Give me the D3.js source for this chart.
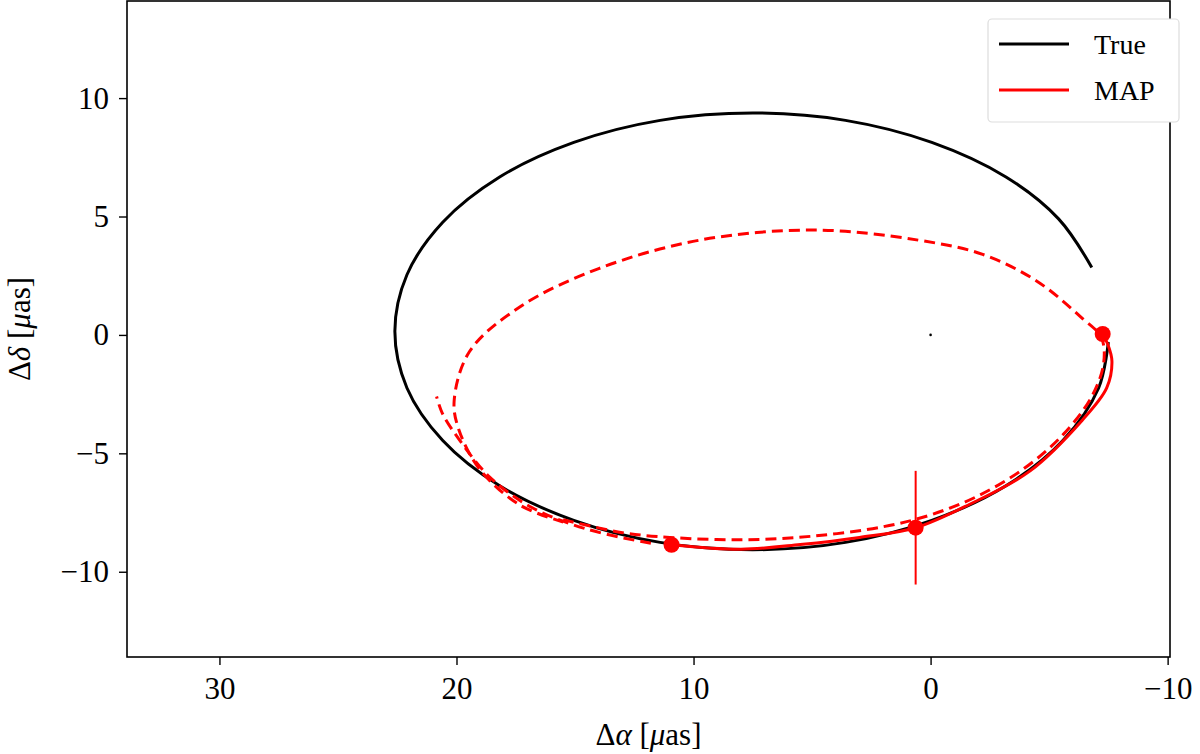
<!DOCTYPE html>
<html><head><meta charset="utf-8">
<script src="https://cdn.jsdelivr.net/npm/d3@7"></script>
<style>body{margin:0;background:#fff}</style></head>
<body><svg id="c" width="1200" height="754"></svg>
<script>
const xTicks=[30,20,10,0,-10];
const yTicks=[10,5,0,-5,-10];
const trueOrbit=[[-6.8,2.85],[-5.4,4.9],[-3.18,6.67],[-0.05,8.13],[3.59,9.06],[7.5,9.37],[11.41,9.06],[15.05,8.13],[18.18,6.67],[20.58,4.76],[22.09,2.54],[22.6,0.15],[22.09,-2.24],[20.58,-4.46],[18.18,-6.37],[15.05,-7.83],[11.41,-8.76],[7.5,-9.07],[3.59,-8.76],[-0.05,-7.83],[-3.18,-6.37],[-5.58,-4.46],[-7.09,-2.24],[-7.5,-0.3]];
const mapSolid=[[10.93,-8.86],[8,-9.05],[5.5,-8.85],[3,-8.55],[0.63,-8.14],[-1.65,-7.15],[-4.2,-5.74],[-6.4,-3.6],[-7.43,-2.24],[-7.65,-1.1],[-7.47,-0.38],[-7.26,0.04]];
const mapDashedA=[[11.8,-8.8],[14.5,-8.2],[16.8,-7.3],[18.6,-6.0],[19.9,-4.4],[20.6,-3.3],[20.84,-2.6]];
const mapDashedB=[[15.5,-7.8],[13,-8.35],[11,-8.55],[8,-8.65],[5,-8.5],[2,-8.1],[0,-7.6],[-2,-6.8],[-4,-5.6],[-5.6,-4.2],[-6.8,-2.6],[-7.3,-1.2],[-7.2,-0.1],[-6.4,0.7],[-4.47,2.28],[-2.2,3.4],[0.5,4.0],[4.9,4.43],[9.75,4.0],[14,2.8],[17.3,1.2],[19.45,-0.7],[20.1,-2.8],[19.9,-4.0],[19.0,-5.7],[17.3,-7.2],[15.5,-7.9]];
const mapPoints=[[10.93,-8.86,0],[0.63,-8.14,2.4],[-7.26,0.04,0]];
const center=[[0,0]];

const svg=d3.select("#c");
const L=127,R=1170,T=1,B=657;
const x=d3.scaleLinear().domain([33.9,-10.1]).range([L,R]);
const y=d3.scaleLinear().domain([-13.6,14.1]).range([B,T]);
const font="'Liberation Serif','Times New Roman',serif";
const g=svg.append("g");
const line=d3.line().x(d=>x(d[0])).y(d=>y(d[1])).curve(d3.curveCatmullRom);
g.append("path").attr("d",line(trueOrbit)).attr("fill","none").attr("stroke","#000").attr("stroke-width",3);
[mapDashedA,mapDashedB].forEach(p=>g.append("path").attr("d",line(p)).attr("fill","none").attr("stroke","#f00").attr("stroke-width",3).attr("stroke-dasharray","11,6"));
g.append("path").attr("d",line(mapSolid)).attr("fill","none").attr("stroke","#f00").attr("stroke-width",3);
mapPoints.forEach(p=>{
  if(p[2]>0)g.append("line").attr("x1",x(p[0])).attr("x2",x(p[0])).attr("y1",y(p[1]+p[2])).attr("y2",y(p[1]-p[2])).attr("stroke","#f00").attr("stroke-width",2);
  g.append("circle").attr("cx",x(p[0])).attr("cy",y(p[1])).attr("r",8).attr("fill","#f00");
});
center.forEach(p=>g.append("circle").attr("cx",x(p[0])).attr("cy",y(p[1])).attr("r",1.3).attr("fill","#000"));
svg.append("rect").attr("x",L).attr("y",T).attr("width",R-L).attr("height",B-T).attr("fill","none").attr("stroke","#000").attr("stroke-width",1.6);
const xa=svg.append("g").attr("transform",`translate(0,${B})`).call(d3.axisBottom(x).tickValues(xTicks).tickSize(8).tickPadding(12).tickFormat(d=>d<0?"\u2212"+(-d):d));
const ya=svg.append("g").attr("transform",`translate(${L},0)`).call(d3.axisLeft(y).tickValues(yTicks).tickSize(8).tickPadding(10).tickFormat(d=>d<0?"\u2212"+(-d):d));
[xa,ya].forEach(a=>{a.select(".domain").remove();a.selectAll("line").attr("stroke","#000").attr("stroke-width",1.4);a.selectAll("text").attr("font-family",font).attr("font-size",31).attr("fill","#000");});
svg.append("text").attr("x",(L+R)/2).attr("y",745).attr("text-anchor","middle").attr("font-family",font).attr("font-size",31)
  .html("\u0394<tspan font-style='italic'>\u03b1</tspan> [<tspan font-style='italic'>\u03bc</tspan>as]");
svg.append("text").attr("transform",`translate(30,${(T+B)/2}) rotate(-90)`).attr("text-anchor","middle").attr("font-family",font).attr("font-size",31)
  .html("\u0394<tspan font-style='italic'>\u03b4</tspan> [<tspan font-style='italic'>\u03bc</tspan>as]");
const lg=svg.append("g");
lg.append("rect").attr("x",988).attr("y",19).attr("width",191).attr("height",103).attr("rx",4).attr("fill","#fff").attr("stroke","#ddd").attr("stroke-width",1.2);
[["True","#000",44],["MAP","#f00",90]].forEach(([t,c,yy])=>{
  lg.append("line").attr("x1",999).attr("x2",1069).attr("y1",yy).attr("y2",yy).attr("stroke",c).attr("stroke-width",3);
  lg.append("text").attr("x",1094).attr("y",yy+10).attr("font-family",font).attr("font-size",28).text(t);
});
</script></body></html>
